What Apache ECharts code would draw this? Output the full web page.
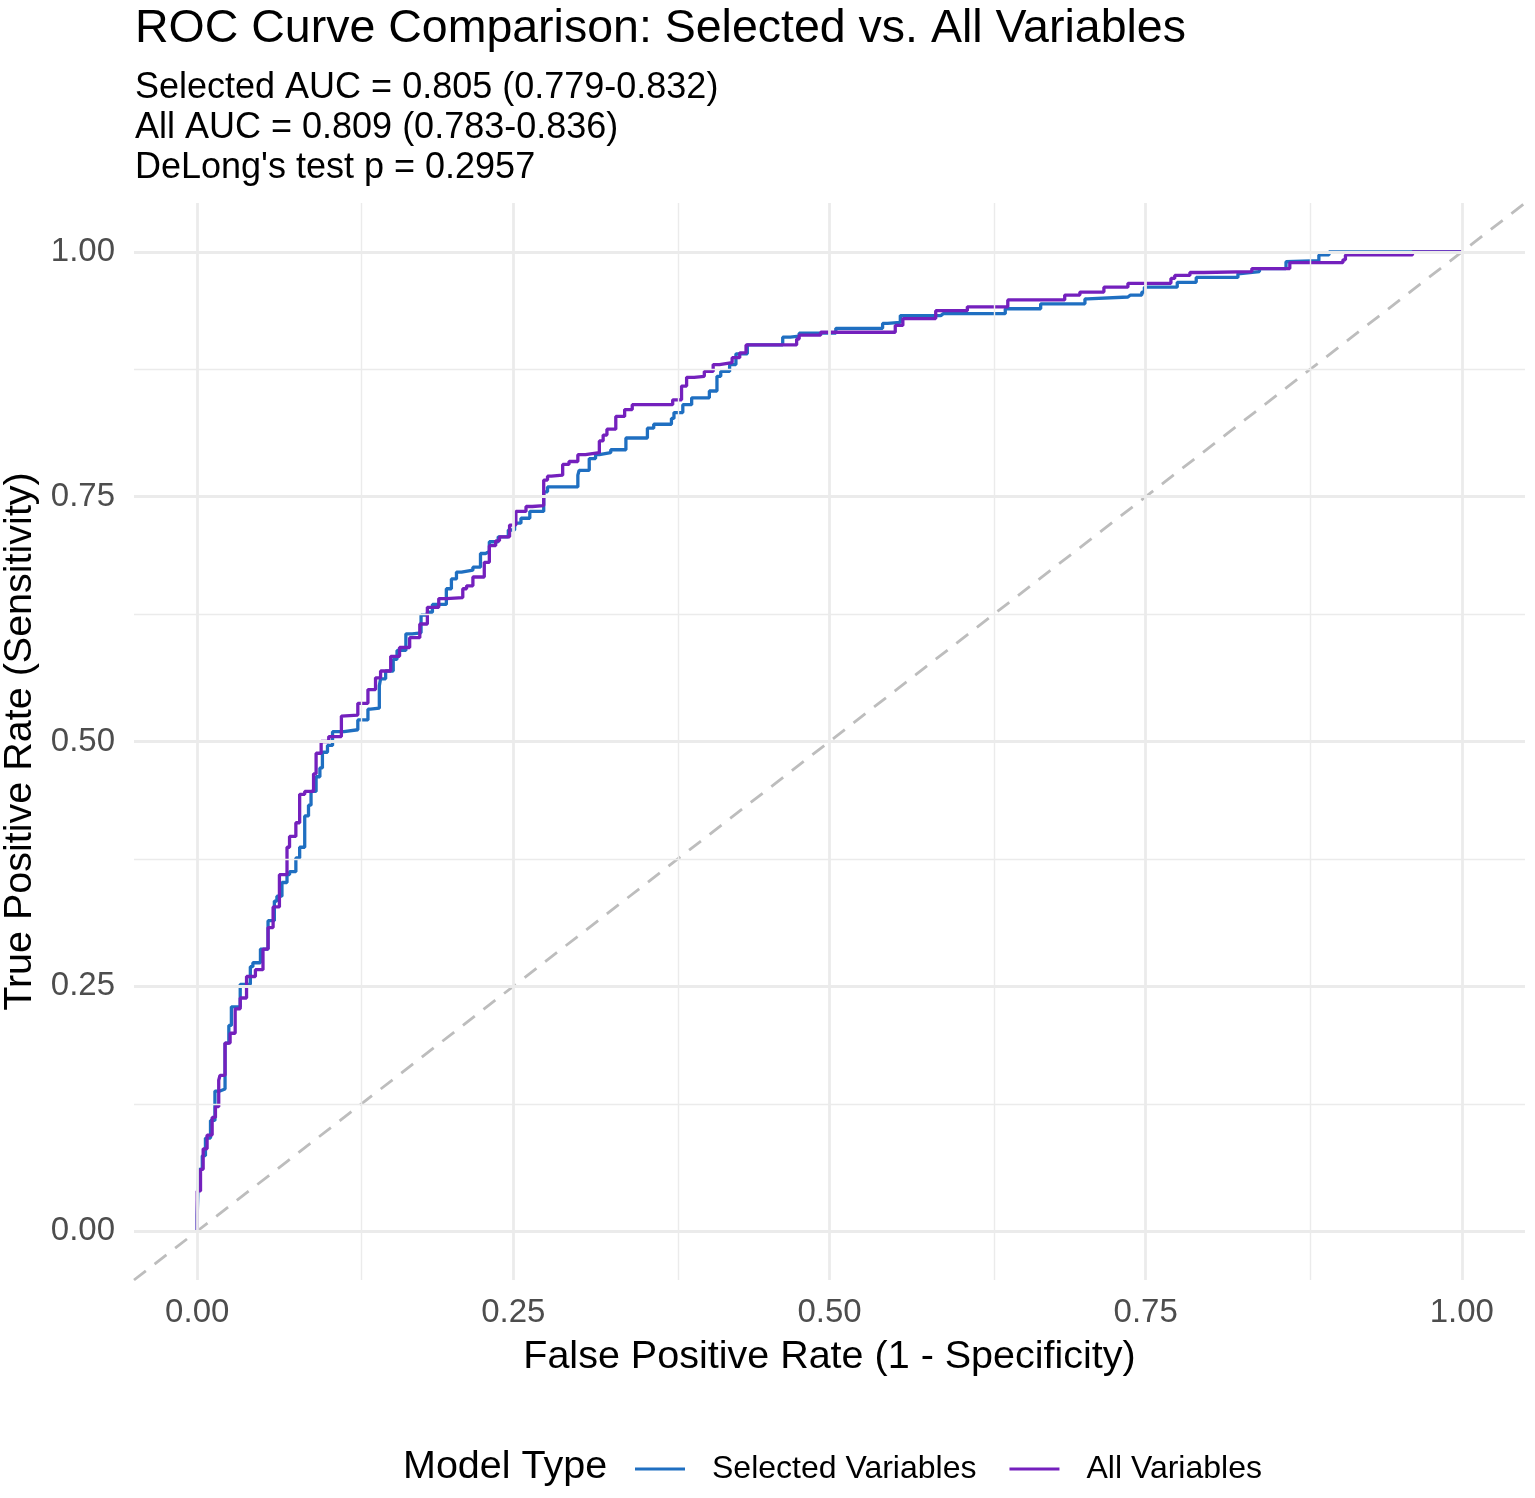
<!DOCTYPE html>
<html>
<head>
<meta charset="utf-8">
<title>ROC Curve Comparison</title>
<script src="https://cdn.jsdelivr.net/npm/echarts@6/dist/echarts.min.js"></script>
<style>
  html, body { margin: 0; padding: 0; background: #fff; }
  #chart { width: 1535px; height: 1498px; }
</style>
</head>
<body>
<div id="chart"></div>
<script>
// ROC curve: [fpr, tpr]
const selectedRoc = [
  [0, 0], [0.001, 0.016], [0.004, 0.063], [0.0065, 0.077], [0.0105, 0.095], [0.014, 0.113],
  [0.018, 0.143], [0.022, 0.145], [0.025, 0.192], [0.027, 0.210], [0.034, 0.229], [0.042, 0.252],
  [0.044, 0.270], [0.050, 0.274], [0.056, 0.288], [0.061, 0.317], [0.063, 0.337], [0.067, 0.342],
  [0.071, 0.356], [0.073, 0.364], [0.078, 0.367], [0.081, 0.381], [0.085, 0.392], [0.088, 0.424],
  [0.090, 0.435], [0.094, 0.449], [0.097, 0.464], [0.099, 0.473], [0.103, 0.489], [0.107, 0.496],
  [0.116, 0.510], [0.127, 0.512], [0.135, 0.522], [0.137, 0.533], [0.144, 0.534], [0.145, 0.557],
  [0.149, 0.564], [0.155, 0.572], [0.158, 0.584], [0.165, 0.593], [0.170, 0.610], [0.177, 0.611],
  [0.182, 0.629], [0.186, 0.632], [0.197, 0.640], [0.201, 0.656], [0.205, 0.666], [0.209, 0.673],
  [0.218, 0.675], [0.224, 0.678], [0.228, 0.692], [0.231, 0.694], [0.238, 0.704], [0.246, 0.709],
  [0.251, 0.716], [0.256, 0.723], [0.263, 0.728], [0.267, 0.735], [0.274, 0.735], [0.277, 0.755],
  [0.281, 0.760], [0.301, 0.760], [0.302, 0.772], [0.310, 0.777], [0.315, 0.789], [0.318, 0.793],
  [0.327, 0.795], [0.331, 0.798], [0.339, 0.798], [0.344, 0.810], [0.356, 0.810], [0.361, 0.820],
  [0.368, 0.824], [0.375, 0.824], [0.377, 0.830], [0.384, 0.836], [0.391, 0.844], [0.394, 0.851],
  [0.405, 0.851], [0.411, 0.858], [0.414, 0.873], [0.421, 0.878], [0.426, 0.885], [0.435, 0.896],
  [0.442, 0.905], [0.463, 0.905], [0.469, 0.913], [0.476, 0.914], [0.505, 0.917], [0.512, 0.922],
  [0.542, 0.922], [0.546, 0.927],
  [0.556, 0.928], [0.558, 0.935], [0.588, 0.935], [0.590, 0.937], [0.639, 0.937], [0.641, 0.942],
  [0.667, 0.942], [0.669, 0.947], [0.702, 0.947], [0.704, 0.952], [0.736, 0.954], [0.738, 0.956],
  [0.747, 0.956], [0.749, 0.959], [0.753, 0.964], [0.775, 0.964], [0.778, 0.969], [0.790, 0.969],
  [0.796, 0.974], [0.823, 0.974], [0.825, 0.978], [0.840, 0.980], [0.861, 0.983], [0.862, 0.990],
  [0.887, 0.991], [0.895, 0.997], [0.897, 1.0], [1.0, 1.0]
];

const allRoc = [
  [0, 0], [0.0026, 0.041], [0.0047, 0.063], [0.0078, 0.084], [0.0118, 0.098], [0.0144, 0.116],
  [0.017, 0.127], [0.018, 0.154], [0.022, 0.159], [0.026, 0.192], [0.030, 0.202], [0.034, 0.227],
  [0.039, 0.238], [0.046, 0.260], [0.052, 0.267], [0.056, 0.288], [0.060, 0.310], [0.065, 0.331],
  [0.071, 0.364], [0.073, 0.392], [0.078, 0.403], [0.081, 0.417], [0.085, 0.446], [0.092, 0.449],
  [0.094, 0.467], [0.098, 0.488], [0.104, 0.500], [0.114, 0.505], [0.115, 0.526], [0.127, 0.527],
  [0.135, 0.539], [0.141, 0.553], [0.145, 0.565], [0.153, 0.572], [0.160, 0.587], [0.168, 0.596],
  [0.176, 0.606], [0.182, 0.620], [0.191, 0.637], [0.197, 0.646], [0.210, 0.647], [0.213, 0.656],
  [0.218, 0.659], [0.221, 0.668], [0.227, 0.668], [0.231, 0.683], [0.236, 0.700], [0.239, 0.705],
  [0.247, 0.709], [0.252, 0.721], [0.260, 0.735], [0.265, 0.740], [0.274, 0.741], [0.277, 0.767],
  [0.280, 0.771], [0.289, 0.772], [0.294, 0.783], [0.301, 0.786], [0.307, 0.793], [0.318, 0.795],
  [0.321, 0.807], [0.324, 0.813], [0.331, 0.819], [0.338, 0.832], [0.344, 0.839], [0.350, 0.844],
  [0.376, 0.844], [0.383, 0.849], [0.387, 0.863], [0.393, 0.872], [0.401, 0.873], [0.408, 0.878],
  [0.413, 0.885], [0.423, 0.887], [0.429, 0.892], [0.434, 0.897], [0.442, 0.905], [0.474, 0.905],
  [0.476, 0.911], [0.493, 0.915], [0.497, 0.918], [0.552, 0.918], [0.558, 0.925], [0.565, 0.932],
  [0.584, 0.932], [0.586, 0.940], [0.609, 0.940], [0.611, 0.944], [0.641, 0.944], [0.643, 0.951],
  [0.686, 0.951], [0.688, 0.956], [0.698, 0.956], [0.702, 0.959], [0.717, 0.959], [0.719, 0.964],
  [0.736, 0.964], [0.738, 0.968], [0.770, 0.968], [0.773, 0.973], [0.785, 0.976], [0.796, 0.979],
  [0.834, 0.980], [0.836, 0.983], [0.864, 0.983], [0.866, 0.989], [0.906, 0.989], [0.908, 0.992],
  [0.961, 0.997], [0.963, 1.0], [1.0, 1.0]
];

const chanceLine = [[-0.05, -0.05], [1.05, 1.05]];

const majorTicks = [0, 0.25, 0.5, 0.75, 1];
const minorTicks = [0.125, 0.375, 0.625, 0.875];

const seriesNames = ['Selected Variables', 'All Variables'];
const subtitleLines = [
  'Selected AUC = 0.805 (0.779-0.832)',
  'All AUC = 0.809 (0.783-0.836)',
  "DeLong's test p = 0.2957"
];

const FONT = '"Liberation Sans", Arial, sans-serif';
const colors = ['#1f6fc1', '#7420bd'];

const chart = echarts.init(document.getElementById('chart'));

function gridLines(axisKey) {
  return majorTicks.map(v => ({ [axisKey]: v, lineStyle: { width: 2.8 } }))
    .concat(minorTicks.map(v => ({ [axisKey]: v, lineStyle: { width: 1.4 } })));
}

chart.setOption({
  animation: false,
  backgroundColor: '#fff',
  textStyle: { fontFamily: FONT },
  title: {
    left: 130,
    top: 1,
    text: 'ROC Curve Comparison: Selected vs. All Variables',
    textStyle: { fontFamily: FONT, fontSize: 46.5, fontWeight: 'normal', color: '#000' },
    subtext: subtitleLines.join('\n'),
    subtextStyle: { fontFamily: FONT, fontSize: 36, lineHeight: 40, color: '#000' },
    itemGap: 15
  },
  grid: { left: 134, right: 10, top: 203, bottom: 218, outerBoundsMode: 'none', containLabel: false },
  xAxis: {
    type: 'value',
    min: -0.05,
    max: 1.05,
    name: 'False Positive Rate (1 - Specificity)',
    nameLocation: 'middle',
    nameGap: 57,
    nameTextStyle: { fontFamily: FONT, fontSize: 39.5, color: '#000' },
    axisLine: { show: false },
    axisTick: { show: false },
    splitLine: { show: false },
    axisLabel: {
      customValues: majorTicks,
      formatter: v => v.toFixed(2),
      fontSize: 33,
      color: '#4d4d4d',
      margin: 16
    }
  },
  yAxis: {
    type: 'value',
    min: -0.05,
    max: 1.05,
    name: 'True Positive Rate (Sensitivity)',
    nameLocation: 'middle',
    nameGap: 85,
    nameTextStyle: { fontFamily: FONT, fontSize: 39.5, color: '#000' },
    axisLine: { show: false },
    axisTick: { show: false },
    splitLine: { show: false },
    axisLabel: {
      customValues: majorTicks,
      formatter: v => v.toFixed(2),
      fontSize: 33,
      color: '#4d4d4d',
      margin: 19
    }
  },
  legend: {
    data: seriesNames,
    left: 635,
    top: 1453,
    padding: 0,
    icon: 'rect',
    itemWidth: 50,
    itemHeight: 3,
    itemGap: 33,
    textStyle: { fontFamily: FONT, fontSize: 32, color: '#000', padding: [0, 0, 0, 22] }
  },
  graphic: [{
    type: 'text',
    left: 403,
    top: 1447,
    style: { text: 'Model Type', font: '39.5px ' + FONT, fill: '#000' }
  }],
  series: [
    {
      name: 'grid',
      type: 'line',
      data: [],
      z: 0,
      silent: true,
      markLine: {
        silent: true,
        symbol: ['none', 'none'],
        label: { show: false },
        lineStyle: { color: '#ebebeb', type: 'solid' },
        data: gridLines('xAxis').concat(gridLines('yAxis'))
      }
    },
    {
      name: 'chance',
      type: 'line',
      data: chanceLine,
      z: 1,
      silent: true,
      showSymbol: false,
      lineStyle: { color: '#bdbdbd', width: 2.8, type: [15, 11] }
    },
    {
      name: seriesNames[0],
      type: 'line',
      data: selectedRoc,
      step: 'start',
      showSymbol: false,
      symbol: 'none',
      z: 3,
      color: colors[0],
      lineStyle: { color: colors[0], width: 3.3 }
    },
    {
      name: seriesNames[1],
      type: 'line',
      data: allRoc,
      step: 'start',
      showSymbol: false,
      symbol: 'none',
      z: 4,
      color: colors[1],
      lineStyle: { color: colors[1], width: 3.3 }
    }
  ]
});
</script>
</body>
</html>
